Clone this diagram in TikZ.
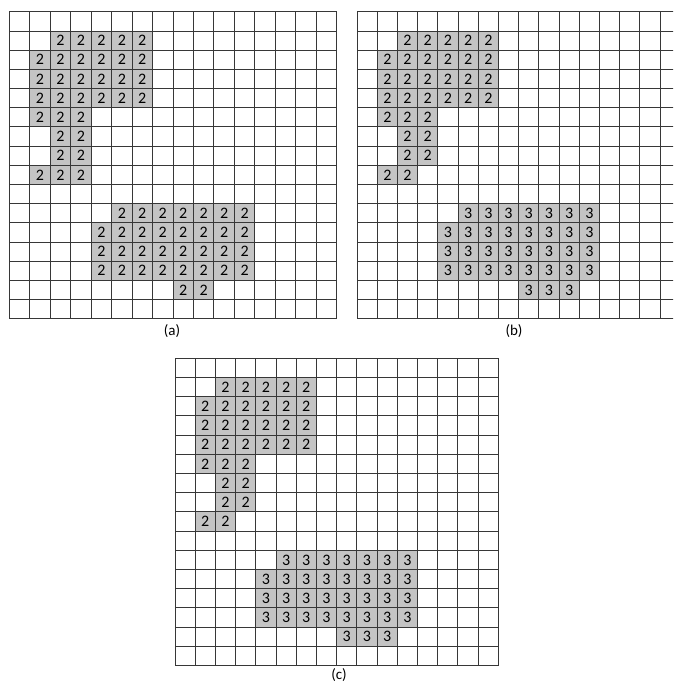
\documentclass[tikz,border=0pt]{standalone}
\usepackage{fontspec}
\setmainfont{Carlito}
\usepackage{tikz}
\usetikzlibrary{positioning}
\usepackage{xcolor}
\definecolor{cellgray}{RGB}{196,196,196}
\definecolor{gridline}{RGB}{55,55,55}
\tikzset{
  gridrule/.style={draw=gridline, line width=0.9pt},
  cellbox/.style={rectangle, fill=cellgray, draw=gridline, line width=0.9pt, inner sep=0pt, font=\fontsize{16}{16}\selectfont},
  captionlabel/.style={font=\fontsize{15}{17}\selectfont, inner sep=0pt}
}
% #1 name, #2/#3 top-left corner, #4/#5 cell size, #6 row/from/to/value
\newcommand{\cellgrid}[6]{%
  \begin{scope}[shift={(#2,#3)}, x=#4pt, y=-#5pt]
    \foreach \i in {0,...,16} {
      \draw[gridrule] (\i,0) -- (\i,16);
      \draw[gridrule] (0,\i) -- (16,\i);
    }
    \foreach \r/\p/\q/\v in {#6} {
      \foreach \c in {\p,...,\q}
        \node[cellbox, minimum width=#4pt, minimum height=#5pt] (#1-\r-\c) at (\c+0.5,\r+0.5) {\v};
    }
  \end{scope}}

\begin{document}
\begin{tikzpicture}[x=1pt, y=-1pt]
  \useasboundingbox[fill=white] (0,0) rectangle (673,685);
  \clip (0,0) rectangle (673,685);
  % (a) before relabelling
  \cellgrid{a}{9.3}{11.8}{20.46}{19.18}{1/2/6/2, 2/1/6/2, 3/1/6/2, 4/1/6/2, 5/1/3/2, 6/2/3/2, 7/2/3/2, 8/1/3/2,
    10/5/11/2, 11/4/11/2, 12/4/11/2, 13/4/11/2, 14/8/9/2}
  % (b)
  \cellgrid{b}{357}{11.8}{20.2}{19.18}{1/2/6/2, 2/1/6/2, 3/1/6/2, 4/1/6/2, 5/1/3/2, 6/2/3/2, 7/2/3/2, 8/1/2/2,
    10/5/11/3, 11/4/11/3, 12/4/11/3, 13/4/11/3, 14/8/10/3}
  % (c)
  \cellgrid{c}{175}{358.3}{20.2}{19.2}{1/2/6/2, 2/1/6/2, 3/1/6/2, 4/1/6/2, 5/1/3/2, 6/2/3/2, 7/2/3/2, 8/1/2/2,
    10/5/11/3, 11/4/11/3, 12/4/11/3, 13/4/11/3, 14/8/10/3}
  \node[captionlabel] (capa) at (172,331) {(a)};
  \node[captionlabel] (capb) at (514,331) {(b)};
  \node[captionlabel] (capc) at (339,675) {(c)};
\end{tikzpicture}
\end{document}
